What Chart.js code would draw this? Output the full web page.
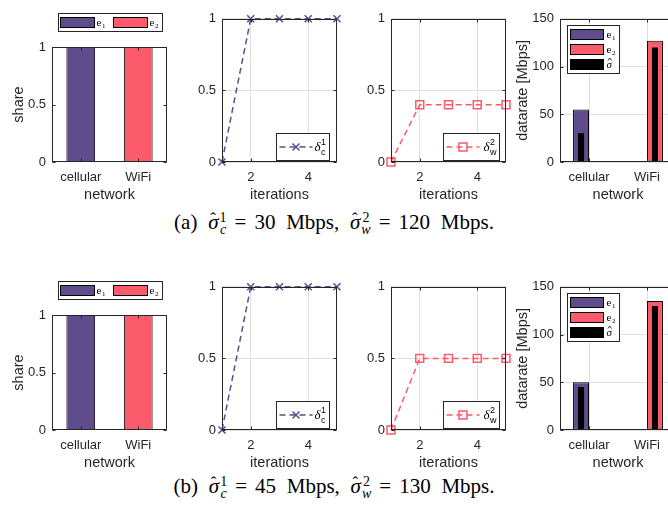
<!DOCTYPE html>
<html>
<head>
<meta charset="utf-8">
<script src="https://cdn.jsdelivr.net/npm/chart.js@4.4.0/dist/chart.umd.min.js"></script>
<style>
    body { margin: 0; width: 668px; height: 506px; overflow: hidden; background: #fff; position: relative; }
    canvas { position: absolute; }
    .cap { position: absolute; left: 0; width: 668px; text-align: center; font-family: "Liberation Serif", "Times New Roman", serif; font-size: 21px; line-height: 24px; color: #000; white-space: nowrap; word-spacing: 5.5px; }
    .hat { display: inline-block; position: relative; font-style: italic; }
    .hat .h { position: absolute; left: 2px; top: -3px; font-style: normal; font-size: 17px; }
    .ss { display: inline-flex; flex-direction: column; font-size: 14px; line-height: 12px; vertical-align: 7px; margin-left: 1px; word-spacing: 0; }
    .ss i { font-style: italic; }
    .eq { margin: 0 8px 0 8px; }
</style>
</head>
<body>

<div class="cap" style="top:210px">(a) <span class="hat"><span class="h">ˆ</span>σ</span><span class="ss"><span>1</span><i>c</i></span><span class="eq">=</span>30 Mbps, <span class="hat"><span class="h">ˆ</span>σ</span><span class="ss"><span>2</span><i>w</i></span><span class="eq">=</span>120 Mbps.</div>
<div class="cap" style="top:474px">(b) <span class="hat"><span class="h">ˆ</span>σ</span><span class="ss"><span>1</span><i>c</i></span><span class="eq">=</span>45 Mbps, <span class="hat"><span class="h">ˆ</span>σ</span><span class="ss"><span>2</span><i>w</i></span><span class="eq">=</span>130 Mbps.</div>

<script>
// ---- data ----
const networks = ['cellular', 'WiFi'];
const shareE1 = [1, 0];
const shareE2 = [0, 1];
const shareTicks = [0, 0.5, 1];

const iterations = [1, 2, 3, 4, 5];
const iterTicks = [2, 4];

const deltaC_a = [0, 1, 1, 1, 1];
const deltaW_a = [0, 0.4, 0.4, 0.4, 0.4];
const rateE1_a = [55, 0];
const rateE2_a = [0, 127];
const sigma_a = [30, 120];

const deltaC_b = [0, 1, 1, 1, 1];
const deltaW_b = [0, 0.5, 0.5, 0.5, 0.5];
const rateE1_b = [50, 0];
const rateE2_b = [0, 135];
const sigma_b = [45, 130];

const rateTicks = [0, 50, 100, 150];

// ---- style ----
const PURPLE = '#5E4C8D';
const RED = '#FB5B6B';
const TXT = '#262626';
const AXIS = '#262626';
const GRID = '#e0e0e0';
const FONT = '"Liberation Sans", Arial, sans-serif';
const SERIF = '"Liberation Serif", "Times New Roman", serif';

// MATLAB-like box with inward ticks
const framePlugin = {
    id: 'frame',
    afterDatasetsDraw(chart) {
        const { ctx, chartArea: a } = chart;
        const l = Math.round(a.left) + 0.5, t = Math.round(a.top) + 0.5;
        const r = Math.round(a.right) - 0.5, b = Math.round(a.bottom) - 0.5;
        ctx.save();
        ctx.strokeStyle = AXIS;
        ctx.lineWidth = 1;
        ctx.beginPath();
        const xs = chart.scales.x, ys = chart.scales.y;
        xs.ticks.forEach((tk, i) => {
            const px = Math.round(xs.getPixelForTick(i)) + 0.5;
            ctx.moveTo(px, b); ctx.lineTo(px, b - 3);
            ctx.moveTo(px, t); ctx.lineTo(px, t + 3);
        });
        ys.ticks.forEach((tk, i) => {
            const py = Math.round(ys.getPixelForTick(i)) + 0.5;
            ctx.moveTo(l, py); ctx.lineTo(l + 3, py);
            ctx.moveTo(r, py); ctx.lineTo(r - 3, py);
        });
        ctx.stroke();
        ctx.strokeRect(l, t, r - l, b - t);
        ctx.restore();
    }
};

function drawMarker(ctx, kind, x, y, color) {
    ctx.save();
    ctx.strokeStyle = color;
    ctx.lineWidth = 1.5;
    ctx.setLineDash([]);
    ctx.beginPath();
    if (kind === 'cross') {
        ctx.moveTo(x - 3.5, y - 3.5); ctx.lineTo(x + 3.5, y + 3.5);
        ctx.moveTo(x + 3.5, y - 3.5); ctx.lineTo(x - 3.5, y + 3.5);
    } else {
        ctx.rect(x - 4, y - 4, 8, 8);
    }
    ctx.stroke();
    ctx.restore();
}

function drawLabel(ctx, x, cy, lab) {
    ctx.fillStyle = '#000';
    ctx.textAlign = 'left';
    ctx.textBaseline = 'alphabetic';
    ctx.font = lab.font;
    const base = cy + lab.shift;
    ctx.fillText(lab.text, x, base);
    const w = ctx.measureText(lab.text).width;
    if (lab.hat) {
        ctx.save();
        ctx.strokeStyle = '#000';
        ctx.lineWidth = 0.8;
        ctx.beginPath();
        ctx.moveTo(x + 1.5, base - 7); ctx.lineTo(x + w / 2 + 0.5, base - 9.5); ctx.lineTo(x + w - 0.5, base - 7);
        ctx.stroke();
        ctx.restore();
    }
    ctx.font = lab.sfont;
    if (lab.sup) ctx.fillText(lab.sup, x + w + 0.5, base - lab.supUp);
    if (lab.sub) ctx.fillText(lab.sub, x + w + 0.5, base + lab.subDown);
}

const boxLegend = {
    id: 'boxLegend',
    afterDraw(chart, args, o) {
        if (!o || !o.items) return;
        const { ctx, chartArea: a } = chart;
        const bx = Math.round(a.left + o.x) + 0.5, by = Math.round(a.top + o.y) + 0.5;
        ctx.save();
        ctx.fillStyle = '#fff';
        ctx.fillRect(bx, by, o.w, o.h);
        ctx.strokeStyle = AXIS;
        ctx.lineWidth = 1;
        ctx.strokeRect(bx, by, o.w, o.h);
        o.items.forEach(it => {
            const cy = by + it.cy;
            if (it.kind === 'bar') {
                ctx.fillStyle = it.color;
                ctx.fillRect(bx + it.sx, cy - it.sh / 2, it.sw, it.sh);
                ctx.strokeStyle = '#000';
                ctx.strokeRect(bx + it.sx, cy - it.sh / 2, it.sw, it.sh);
            } else {
                ctx.save();
                ctx.strokeStyle = it.color;
                ctx.lineWidth = 1.5;
                ctx.setLineDash([6, 4]);
                ctx.beginPath();
                ctx.moveTo(bx + it.sx, cy);
                ctx.lineTo(bx + it.sx + it.sw, cy);
                ctx.stroke();
                ctx.restore();
                drawMarker(ctx, it.marker, bx + it.sx + it.sw / 2, cy, it.color);
            }
            drawLabel(ctx, bx + it.tx, cy, it.label);
        });
        ctx.restore();
    }
};

function makeCanvas(rect, m) {
    const c = document.createElement('canvas');
    c.width = rect.w + m.l + m.r;
    c.height = rect.h + m.t + m.b;
    c.style.left = (rect.l - m.l) + 'px';
    c.style.top = (rect.t - m.t) + 'px';
    document.body.appendChild(c);
    return c;
}

function tickOpt(pad) {
    return { color: TXT, font: { size: 13, family: FONT }, padding: pad, callback: v => String(v) };
}
function xTickOpt() {
    return { color: TXT, font: { size: 13, family: FONT }, padding: 8 };
}
function titleOpt(text) {
    return { display: true, text: text, color: TXT, font: { size: 14.5, family: FONT }, padding: { top: 4, bottom: 4 } };
}

function yScale(min, max, ticks, title, width, grid) {
    return {
        min: min, max: max,
        afterFit: s => { s.width = width; },
        afterBuildTicks: s => { s.ticks = ticks.map(v => ({ value: v })); },
        grid: { display: grid, color: GRID, drawTicks: false },
        border: { display: false },
        ticks: tickOpt(6),
        title: title ? titleOpt(title) : { display: false }
    };
}

const eLabel = n => ({ text: 'e', font: '11px ' + SERIF, shift: 3, sfont: '7px ' + SERIF, sub: n, subDown: 2 });
const sigLabel = { text: 'σ', font: 'italic 11px ' + SERIF, shift: 3, hat: true, sfont: '7px ' + SERIF };
const dLabel = (sup, sub) => ({ text: 'δ', font: 'italic 13px ' + SERIF, shift: 4, sfont: '9px ' + FONT, sup: sup, sub: sub, supUp: 6, subDown: 4 });

function shareChart(rect) {
    const m = { l: 46, t: rect.t - 5, r: 6, b: 46 };
    return new Chart(makeCanvas(rect, m), {
        type: 'bar',
        data: {
            labels: networks,
            datasets: [
                { data: shareE1, backgroundColor: PURPLE, borderColor: '#000', borderWidth: 1, borderSkipped: false },
                { data: shareE2, backgroundColor: RED, borderColor: '#000', borderWidth: 1, borderSkipped: false }
            ]
        },
        options: {
            responsive: false, animation: false,
            layout: { padding: { top: m.t, right: m.r, left: 0, bottom: 0 } },
            datasets: { bar: { barPercentage: 0.5, categoryPercentage: 1 } },
            scales: {
                x: {
                    stacked: true,
                    afterFit: s => { s.height = m.b; },
                    grid: { display: false, drawTicks: false },
                    border: { display: false },
                    ticks: xTickOpt(),
                    title: titleOpt('network')
                },
                y: Object.assign(yScale(0, 1, shareTicks, 'share', m.l, false), { stacked: true })
            },
            plugins: {
                legend: { display: false }, tooltip: { enabled: false },
                boxLegend: {
                    x: 6, y: -34, w: 104, h: 18,
                    items: [
                        { kind: 'bar', color: PURPLE, sx: 2, cy: 9, sw: 34, sh: 10, tx: 38, label: eLabel('1') },
                        { kind: 'bar', color: RED, sx: 55, cy: 9, sw: 34, sh: 10, tx: 91, label: eLabel('2') }
                    ]
                }
            }
        },
        plugins: [framePlugin, boxLegend]
    });
}

function deltaChart(rect, values, color, marker, legendSpec) {
    const m = { l: 40, t: 8, r: 10, b: 46 };
    return new Chart(makeCanvas(rect, m), {
        type: 'line',
        data: {
            datasets: [{
                data: iterations.map((x, i) => ({ x: x, y: values[i] })),
                borderColor: color, borderWidth: 1.5, borderDash: [6, 4],
                pointStyle: marker === 'cross' ? 'crossRot' : 'rect',
                pointRadius: marker === 'cross' ? 5 : 5.6,
                pointBorderColor: color, pointBorderWidth: 1.5,
                pointBackgroundColor: 'rgba(0,0,0,0)',
                clip: false, tension: 0
            }]
        },
        options: {
            responsive: false, animation: false,
            layout: { padding: { top: m.t, right: m.r, left: 0, bottom: 0 } },
            scales: {
                x: {
                    type: 'linear', min: 1, max: 5,
                    afterFit: s => { s.height = m.b; },
                    afterBuildTicks: s => { s.ticks = iterTicks.map(v => ({ value: v })); },
                    grid: { color: GRID, drawTicks: false },
                    border: { display: false },
                    ticks: tickOpt(8),
                    title: titleOpt('iterations')
                },
                y: yScale(0, 1, shareTicks, null, m.l, true)
            },
            plugins: { legend: { display: false }, tooltip: { enabled: false }, boxLegend: legendSpec }
        },
        plugins: [framePlugin, boxLegend]
    });
}

function rateChart(rect, e1, e2, sigma) {
    const m = { l: 50, t: 8, r: 10, b: 46 };
    // sigma of each network sits inside the bar of the user served there
    const sLeft = [sigma[0], null];
    const sRight = [null, sigma[1]];
    return new Chart(makeCanvas(rect, m), {
        type: 'bar',
        data: {
            labels: networks,
            datasets: [
                { data: sLeft, stack: 'a', order: 0, backgroundColor: '#000', barPercentage: 0.38 },
                { data: sRight, stack: 'b', order: 0, backgroundColor: '#000', barPercentage: 0.38 },
                { data: e1, stack: 'a', order: 1, backgroundColor: PURPLE, borderColor: '#000', borderWidth: 1, borderSkipped: false, barPercentage: 1 },
                { data: e2, stack: 'b', order: 1, backgroundColor: RED, borderColor: '#000', borderWidth: 1, borderSkipped: false, barPercentage: 1 }
            ]
        },
        options: {
            responsive: false, animation: false,
            layout: { padding: { top: m.t, right: m.r, left: 0, bottom: 0 } },
            datasets: { bar: { categoryPercentage: 0.55 } },
            scales: {
                x: {
                    stacked: true,
                    afterFit: s => { s.height = m.b; },
                    grid: { color: GRID, drawTicks: false, offset: false },
                    border: { display: false },
                    ticks: xTickOpt(),
                    title: titleOpt('network')
                },
                y: Object.assign(yScale(0, 150, rateTicks, 'datarate [Mbps]', m.l, true), { stacked: false })
            },
            plugins: {
                legend: { display: false }, tooltip: { enabled: false },
                boxLegend: {
                    x: 7, y: 6, w: 52, h: 48,
                    items: [
                        { kind: 'bar', color: PURPLE, sx: 3, cy: 9, sw: 33, sh: 10, tx: 39, label: eLabel('1') },
                        { kind: 'bar', color: RED, sx: 3, cy: 24, sw: 33, sh: 10, tx: 39, label: eLabel('2') },
                        { kind: 'bar', color: '#000', sx: 3, cy: 39, sw: 33, sh: 10, tx: 39, label: sigLabel }
                    ]
                }
            }
        },
        plugins: [framePlugin, boxLegend]
    });
}

const legC = { x: 54, y: 114, w: 53, h: 27, items: [{ kind: 'line', marker: 'cross', color: PURPLE, sx: 3, cy: 13.5, sw: 33, tx: 38, label: dLabel('1', 'c') }] };
const legW = { x: 52, y: 114, w: 56, h: 27, items: [{ kind: 'line', marker: 'square', color: RED, sx: 3, cy: 13.5, sw: 33, tx: 40, label: dLabel('2', 'w') }] };

// row (a)
shareChart({ l: 52, t: 47, w: 115, h: 115 });
deltaChart({ l: 222, t: 13, w: 115, h: 149 }, deltaC_a, PURPLE, 'cross', legC);
deltaChart({ l: 391, t: 13, w: 115, h: 149 }, deltaW_a, RED, 'square', legW);
rateChart({ l: 560, t: 13, w: 116, h: 149 }, rateE1_a, rateE2_a, sigma_a);

// row (b)
shareChart({ l: 52, t: 315, w: 115, h: 115 });
deltaChart({ l: 222, t: 281, w: 115, h: 149 }, deltaC_b, PURPLE, 'cross', legC);
deltaChart({ l: 391, t: 281, w: 115, h: 149 }, deltaW_b, RED, 'square', legW);
rateChart({ l: 560, t: 281, w: 116, h: 149 }, rateE1_b, rateE2_b, sigma_b);
</script>
</body>
</html>
